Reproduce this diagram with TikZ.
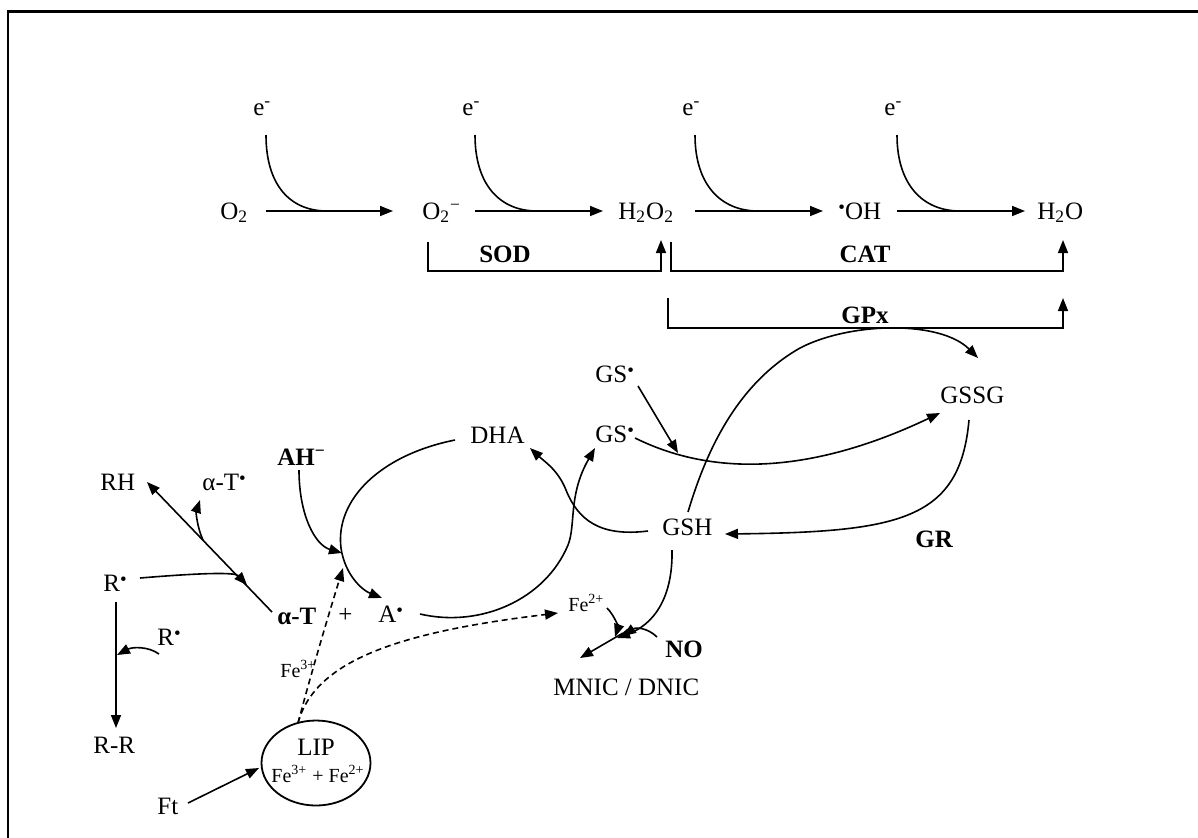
\documentclass[tikz,border=0pt]{standalone}
\usepackage{fontspec}
\setmainfont{Liberation Serif}
\usetikzlibrary{arrows.meta,shapes.geometric}
\newcommand{\raddot}{\raisebox{0.5ex}{\fontsize{9.5}{9.5}\selectfont •}}
\tikzset{
  lbl/.style={font=\fontsize{12.5}{15}\selectfont, inner sep=0pt, anchor=base west},
  blbl/.style={font=\fontsize{12.5}{15}\selectfont\bfseries, inner sep=0pt, anchor=base west},
  smalllbl/.style={font=\fontsize{10}{12}\selectfont, inner sep=0pt, anchor=base west},
  conn/.style={line width=0.8pt},
  arr/.style={conn, -{Triangle[length=6.5pt,width=5pt]}},
  darr/.style={arr, dash pattern=on 3pt off 2pt},
  frameline/.style={line width=1.25pt},
  pool/.style={draw, ellipse, line width=0.9pt, minimum width=54.5pt, minimum height=42.5pt, inner sep=0pt}
}
\begin{document}
\begin{tikzpicture}[x=0.5pt,y=-0.5pt]
\useasboundingbox (0,0) rectangle (1198,837);
\clip (0,0) rectangle (1198,837);
% frame
\coordinate (fa) at (8,900); \coordinate (fb) at (8,11.5); \coordinate (fc) at (1260,11.5);
\draw[frameline] (fa) -- (fb) -- (fc);

% top row
\node[lbl] (o2) at (220,219) {O\textsubscript{2}};
\node[lbl] (o2m) at (422,219) {O\textsubscript{2}\textsuperscript{−}};
\node[lbl] (h2o2) at (618,219) {H\textsubscript{2}O\textsubscript{2}};
\node[lbl] (oh) at (838,219) {\raddot OH};
\node[lbl] (h2o) at (1037,219) {H\textsubscript{2}O};
\foreach \i/\s/\e/\m/\c in {1/266/393/327/290, 2/475/603/537/500, 3/695/823/758/721, 4/897/1025/960/923} {
  \pgfmathsetmacro{\lx}{\s-13}
  \node[lbl] (e\i) at (\lx,115) {e\textsuperscript{-}};
  \coordinate (rs\i) at (\s,211); \coordinate (re\i) at (\e,211);
  \coordinate (es\i) at (\s,135); \coordinate (em\i) at (\m,211);
  \draw[arr] (rs\i) -- (re\i);
  \draw[conn] (es\i) .. controls (\s,185) and (\c,211) .. (em\i);
}

% enzyme brackets
\coordinate (sodA) at (428,242); \coordinate (sodB) at (661,240);
\draw[arr] (sodA) -- ++(0,29) -| (sodB);
\coordinate (catA) at (671,242); \coordinate (catB) at (1063,240);
\draw[arr] (catA) -- ++(0,29) -| (catB);
\coordinate (gpxA) at (668,298); \coordinate (gpxB) at (1063,298);
\draw[arr] (gpxA) -- ++(0,30) -| (gpxB);
\node[blbl, anchor=base] (sod) at (505,262) {SOD};
\node[blbl, anchor=base] (cat) at (865,262) {CAT};
\node[blbl, anchor=base] (gpx) at (865,323) {GPx};

% glutathione part
\node[lbl] (gs1) at (595,382) {GS\raddot};
\node[lbl] (gs2) at (595,442) {GS\raddot};
\node[lbl] (gssg) at (940,403) {GSSG};
\node[lbl] (dha) at (470,443) {DHA};
\node[lbl] (gsh) at (662,535) {GSH};
\node[blbl] (gr) at (915,547) {GR};

\coordinate (gs1o) at (638,386); \coordinate (gs1t) at (678,453);
\draw[arr] (gs1o) -- (gs1t);
\coordinate (gs2o) at (635,438); \coordinate (gssgI) at (940,413);
\draw[arr] (gs2o) .. controls (720,480) and (820,470) .. (gssgI);
\coordinate (gshT) at (688,512); \coordinate (gssgT) at (978,358);
\draw[arr] (gshT) .. controls (705,455) and (735,385) .. (800,348) .. controls (850,322) and (940,320) .. (gssgT);
\coordinate (gssgB) at (969,420); \coordinate (gshE) at (725,534);
\draw[arr] (gssgB) .. controls (960,520) and (900,532) .. (gshE);
\coordinate (gshW) at (648,531); \coordinate (dhaT) at (530,448);
\draw[arr] (gshW) .. controls (600,537) and (578,520) .. (566,490) .. controls (558,470) and (545,462) .. (dhaT);

% ascorbate part
\node[blbl] (ah) at (277,465) {AH\textsuperscript{−}};
\node[lbl] (arad) at (378,622) {A\raddot};
\coordinate (aE) at (420,614); \coordinate (gs2T) at (595,448);
\draw[arr] (aE) .. controls (480,628) and (545,600) .. (568,545) .. controls (576,525) and (568,495) .. (gs2T);
\coordinate (dhaW) at (455,440); \coordinate (aT) at (382,598);
\draw[arr] (dhaW) .. controls (380,455) and (335,500) .. (341,548) .. controls (345,575) and (362,590) .. (aT);
\coordinate (ahB) at (299,470); \coordinate (ahT) at (342,553);
\draw[arr] (ahB) .. controls (299,515) and (315,545) .. (ahT);

% tocopherol part
\node[lbl] (rh) at (100,490) {RH};
\node[lbl] (atr) at (202,490) {α-T\raddot};
\node[lbl] (r1) at (103,591) {R\raddot};
\node[blbl] (at) at (277,624) {α-T};
\node[lbl] (plus) at (338,622) {+};
\node[lbl] (r2) at (157,645) {R\raddot};
\node[lbl] (rr) at (93,753) {R-R};
\coordinate (atS) at (272,612); \coordinate (rhT) at (147,482);
\draw[arr] (atS) -- (rhT);
\coordinate (brS) at (203,540); \coordinate (atdT) at (200,500);
\draw[arr] (brS) .. controls (197,527) and (196,512) .. (atdT);
\coordinate (rO) at (140,578); \coordinate (rT) at (247,585);
\draw[arr] (rO) .. controls (200,573) and (235,572) .. (rT);
\coordinate (rB) at (116,602); \coordinate (rrT) at (116,728);
\draw[arr] (rB) -- (rrT);
\coordinate (r2O) at (159,654); \coordinate (r2T) at (117,655);
\draw[arr] (r2O) .. controls (148,646) and (132,647) .. (r2T);

% iron part
\node[pool] (lip) at (316,763) {};
\node[lbl, anchor=base] (liplbl) at (316,755) {LIP};
\node[smalllbl, anchor=base] (lipfe) at (318,782) {Fe\textsuperscript{3+} + Fe\textsuperscript{2+}};
\node[lbl] (ft) at (157,814) {Ft};
\node[smalllbl] (fe3) at (280,677) {Fe\textsuperscript{3+}};
\node[smalllbl] (fe2) at (568,611) {Fe\textsuperscript{2+}};
\node[blbl] (no) at (665,657) {NO};
\node[lbl] (mnic) at (553,695) {MNIC / DNIC};
\coordinate (ftE) at (188,803); \coordinate (lipW) at (259,768);
\draw[arr] (ftE) -- (lipW);
\coordinate (lipT) at (298,723); \coordinate (d1T) at (343,568); \coordinate (fe2T) at (558,613);
\draw[darr] (lipT) .. controls (312,670) and (330,610) .. (d1T);
\draw[darr] (lipT) .. controls (315,660) and (400,632) .. (fe2T);
\coordinate (fe2E) at (607,608); \coordinate (jn) at (615,637);
\draw[arr] (fe2E) .. controls (615,616) and (618,628) .. (jn);
\coordinate (gshB) at (672,550); \coordinate (jnb) at (617,638);
\draw[arr] (gshB) .. controls (673,600) and (652,625) .. (jnb);
\coordinate (noW) at (657,637); \coordinate (noT) at (623,636);
\draw[arr] (noW) .. controls (648,628) and (636,627) .. (noT);
\coordinate (jn2) at (623,633); \coordinate (mnT) at (580,658);
\draw[arr] (jn2) -- (mnT);
\end{tikzpicture}
\end{document}
